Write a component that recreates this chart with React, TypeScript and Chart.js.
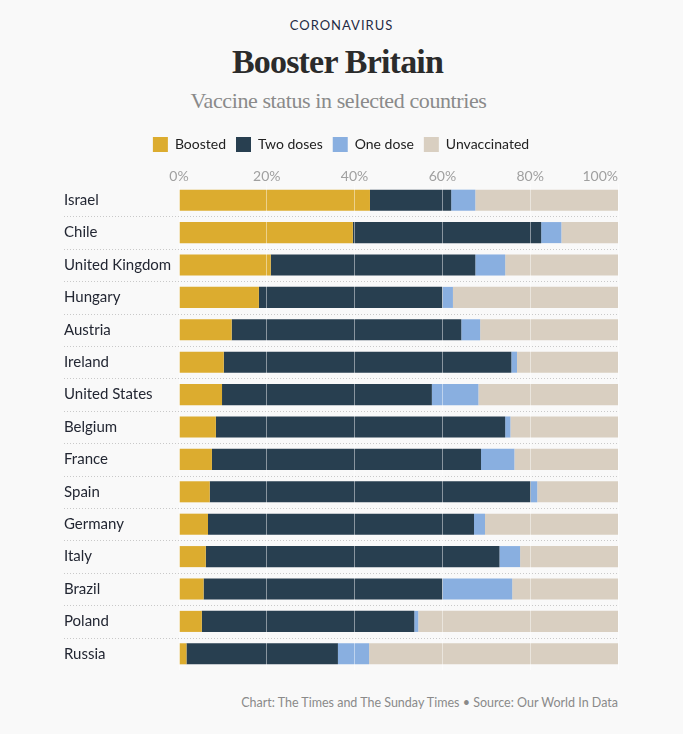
import { useEffect, useRef } from "react";
import { Chart, registerables } from "chart.js";

Chart.register(...registerables);

const countries = [
  "Israel", "Chile", "United Kingdom", "Hungary", "Austria", "Ireland", "United States",
  "Belgium", "France", "Spain", "Germany", "Italy", "Brazil", "Poland", "Russia",
];
const boosted = [43.5, 39.6, 20.9, 18.2, 12.0, 10.2, 9.8, 8.4, 7.5, 7.0, 6.6, 6.1, 5.6, 5.2, 1.7];
const twoDoses = [18.5, 42.9, 46.6, 41.8, 52.3, 65.5, 47.8, 65.9, 61.3, 73.1, 60.6, 66.9, 54.4, 48.4, 34.5];
const oneDose = [5.5, 4.6, 6.8, 2.4, 4.3, 1.3, 10.6, 1.2, 7.6, 1.5, 2.5, 4.7, 15.9, 0.9, 7.1];
const unvaccinated = [32.5, 12.9, 25.7, 37.6, 31.4, 23.0, 31.8, 24.5, 23.6, 18.4, 30.3, 22.3, 24.1, 45.5, 56.7];

const seriesNames = ["Boosted", "Two doses", "One dose", "Unvaccinated"];
const seriesColors = ["#dcac2f", "#283f50", "#89afe0", "#d9cfc1"];

const xTickValues = [0, 20, 40, 60, 80, 100];
const xTickLabels = ["0%", "20%", "40%", "60%", "80%", "100%"];

const kicker = "CORONAVIRUS";
const titleText = "Booster Britain";
const subtitleText = "Vaccine status in selected countries";
const footerText = "Chart: The Times and The Sunday Times \u2022 Source: Our World In Data";

const SANS = "Lato, 'Open Sans', sans-serif";
const SERIF = "'Liberation Serif', 'DejaVu Serif', serif";

export default function App() {
  const canvasRef = useRef<HTMLCanvasElement | null>(null);

  useEffect(() => {
    const canvas = canvasRef.current;
    if (!canvas) return;

    const separators = {
      id: "rowSeparators",
      beforeDatasetsDraw(chart: any) {
        const y = chart.scales.y;
        const area = chart.chartArea;
        const ctx = chart.ctx;
        ctx.save();
        ctx.strokeStyle = "#c9c9c9";
        ctx.lineWidth = 1;
        ctx.setLineDash([1, 2]);
        for (let i = 0; i < countries.length - 1; i++) {
          const yy = Math.round((y.getPixelForValue(i) + y.getPixelForValue(i + 1)) / 2) + 0.5;
          ctx.beginPath();
          ctx.moveTo(y.left, yy);
          ctx.lineTo(area.right, yy);
          ctx.stroke();
        }
        ctx.restore();
      },
    };

    const topTicks = {
      id: "topTicks",
      afterDraw(chart: any) {
        const x = chart.scales.x;
        const area = chart.chartArea;
        const ctx = chart.ctx;
        ctx.save();
        ctx.fillStyle = "#a0a0a0";
        ctx.font = `14px ${SANS}`;
        ctx.textBaseline = "middle";
        xTickValues.forEach((v, i) => {
          const px = x.getPixelForValue(v);
          ctx.textAlign = i === xTickValues.length - 1 ? "right" : "center";
          ctx.fillText(xTickLabels[i], px, area.top - 7.5);
        });
        ctx.restore();
      },
    };

    const data = [boosted, twoDoses, oneDose, unvaccinated];
    const chart = new Chart(canvas, {
      type: "bar",
      data: {
        labels: countries,
        datasets: seriesNames.map((name, i) => ({
          label: name,
          data: data[i],
          backgroundColor: seriesColors[i],
          borderWidth: 0,
          barPercentage: 0.65,
          categoryPercentage: 1,
        })),
      },
      options: {
        indexAxis: "y",
        responsive: false,
        animation: false,
        devicePixelRatio: 1,
        layout: { padding: { left: 64, right: 65, top: 0, bottom: 0 } },
        plugins: {
          legend: {
            position: "top",
            align: "center",
            labels: {
              boxWidth: 15,
              boxHeight: 15,
              padding: 10,
              color: "#222",
              font: { family: SANS, size: 14 },
            },
          },
          tooltip: { enabled: false },
        },
        scales: {
          x: {
            stacked: true,
            position: "top",
            min: 0,
            max: 100,
            grid: { color: "rgba(255,255,255,0.45)", z: 1, drawTicks: false, lineWidth: 1 },
            border: { display: false },
            ticks: { display: false, stepSize: 20 },
            afterFit: (s: any) => {
              s.height = 22;
            },
          },
          y: {
            stacked: true,
            grid: { display: false },
            border: { display: false },
            ticks: {
              crossAlign: "far",
              color: "#232733",
              font: { family: SANS, size: 15 },
            },
            afterFit: (s: any) => {
              s.width = 115;
            },
          },
        },
      },
      plugins: [separators, topTicks],
    } as any);

    return () => chart.destroy();
  }, []);

  const abs: any = { position: "absolute", left: 0, width: 683, textAlign: "center", whiteSpace: "nowrap" };

  return (
    <div style={{ position: "fixed", left: 0, top: 0, width: 683, height: 734, background: "#f9f9f9", overflow: "hidden" }}>
      <div style={{ ...abs, top: 19.3, fontFamily: SANS, fontSize: 13, lineHeight: "13px", letterSpacing: "1px", color: "#1f2b45" }}>
        {kicker}
      </div>
      <div style={{ ...abs, left: -4, top: 44.8, fontFamily: SERIF, fontWeight: 700, fontSize: 34, lineHeight: "34px", letterSpacing: "-0.8px", color: "#2b2b2b" }}>
        {titleText}
      </div>
      <div style={{ ...abs, left: -3, top: 89.8, fontFamily: SERIF, fontSize: 22, lineHeight: "22px", letterSpacing: "-0.4px", color: "#8a8a8a" }}>
        {subtitleText}
      </div>
      <canvas ref={canvasRef} width={683} height={555} style={{ position: "absolute", left: 0, top: 127, display: "block" }} />
      <div style={{ position: "absolute", right: 65, top: 696.5, fontFamily: SANS, fontSize: 12.5, lineHeight: "12.5px", color: "#8a8a8a", whiteSpace: "nowrap" }}>
        {footerText}
      </div>
    </div>
  );
}
